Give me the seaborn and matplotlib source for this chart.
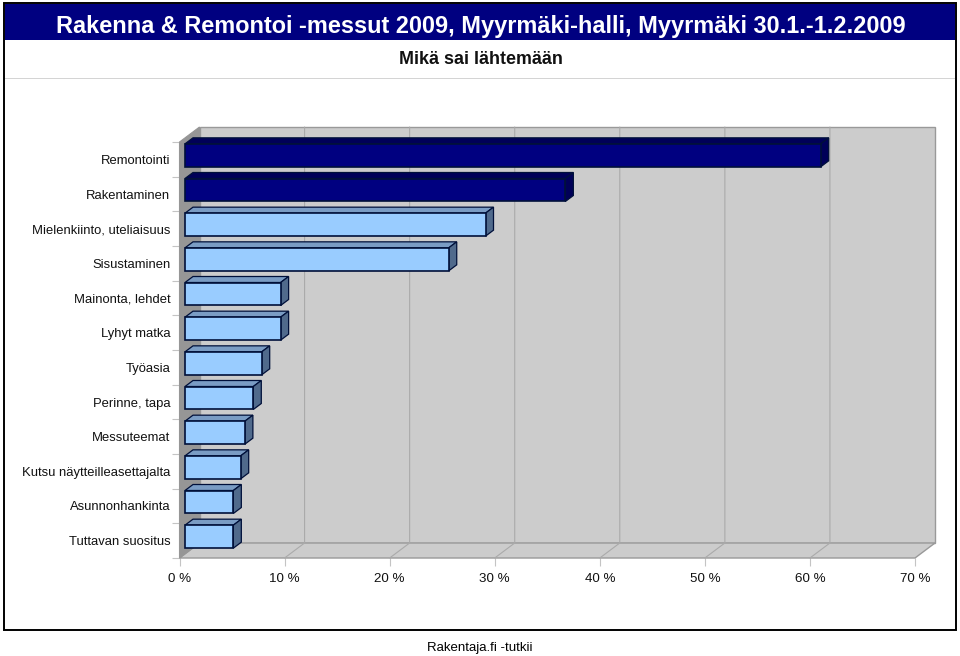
import matplotlib
matplotlib.use("Agg")
import matplotlib.pyplot as plt
from matplotlib.patches import Polygon, Rectangle
import seaborn as sns
import pandas as pd

title = "Rakenna & Remontoi -messut 2009, Myyrmäki-halli, Myyrmäki 30.1.-1.2.2009"
subtitle = "Mikä sai lähtemään"
footer = "Rakentaja.fi -tutkii"
categories = ["Remontointi", "Rakentaminen", "Mielenkiinto, uteliaisuus", "Sisustaminen",
              "Mainonta, lehdet", "Lyhyt matka", "Työasia", "Perinne, tapa",
              "Messuteemat", "Kutsu näytteilleasettajalta", "Asunnonhankinta", "Tuttavan suositus"]
values = [60.5, 36.2, 28.6, 25.1, 9.1, 9.1, 7.3, 6.5, 5.7, 5.3, 4.6, 4.6]
highlighted = [True, True] + [False] * 10
x_ticks = [0, 10, 20, 30, 40, 50, 60, 70]

NAVY, LIGHT = "#000080", "#99CCFF"
W, H = 960, 656
sns.set_theme(style="white")
plt.rcParams["font.family"] = ["Liberation Sans", "DejaVu Sans"]

fig = plt.figure(figsize=(W / 100, H / 100), dpi=100, facecolor="white")
def fx(p): return p / W
def fy(p): return 1 - p / H

# Page furniture
fig.add_artist(Rectangle((fx(4), fy(630)), fx(952), (630 - 3) / H, transform=fig.transFigure,
                         fc="white", ec="black", lw=1.4, zorder=-3))
fig.add_artist(Rectangle((fx(5), fy(40)), fx(950), 36 / H, transform=fig.transFigure,
                         fc=NAVY, ec="none", zorder=-2))
fig.add_artist(Rectangle((fx(5), fy(78.5)), fx(950), 1 / H, transform=fig.transFigure,
                         fc="#d4d4d4", ec="none", zorder=-2))
fig.text(fx(481), fy(26), title, color="white", weight="bold", fontsize=16.9, ha="center", va="center")
fig.text(fx(480.5), fy(60), subtitle, color="#111111", weight="bold", fontsize=12.9, ha="center", va="center")
fig.text(fx(480), fy(648.5), footer, color="black", fontsize=9.5, ha="center", va="center")

# Front plane of the 3D box
L, R, T, B = 179.5, 915, 142, 558
ax = fig.add_axes([fx(L), fy(B), (R - L) / W, (B - T) / H], facecolor="none")
df = pd.DataFrame({"cat": categories, "val": values})
pal = {c: (NAVY if h else LIGHT) for c, h in zip(categories, highlighted)}
sns.barplot(data=df, x="val", y="cat", hue="cat", palette=pal, legend=False, dodge=False,
            width=23 / 34.67, ax=ax, order=categories, hue_order=categories,
            edgecolor="#00103a", linewidth=1.2, zorder=5, saturation=1)
ax.set_xlim(0, 70)
ax.set_ylim(len(categories) - 0.5, -0.5)

px_x = 70 / (R - L)
px_y = len(categories) / (B - T)
wall_dx, wall_dy = 20 * px_x, 15 * px_y
bar_dx, bar_dy = 5.5 * px_x, 4 * px_y
side_dx, side_dy = 8 * px_x, 6 * px_y
y0, y1 = len(categories) - 0.5, -0.5

def poly(pts, **kw):
    ax.add_patch(Polygon(pts, closed=True, clip_on=False, **kw))

# Walls and floor
poly([(wall_dx, y0 - wall_dy), (70 + wall_dx, y0 - wall_dy), (70 + wall_dx, y1 - wall_dy), (wall_dx, y1 - wall_dy)],
     fc="#cccccc", ec="#999999", lw=1.0, zorder=1)
poly([(0, y0), (70, y0), (70 + wall_dx, y0 - wall_dy), (wall_dx, y0 - wall_dy)],
     fc="#cccccc", ec="#999999", lw=1.0, zorder=1)
poly([(0, y0), (wall_dx, y0 - wall_dy), (wall_dx, y1 - wall_dy), (0, y1)],
     fc="#969696", ec="#969696", lw=0.8, zorder=1.5)
for t in x_ticks[1:-1]:
    ax.plot([t, t + wall_dx, t + wall_dx], [y0, y0 - wall_dy, y1 - wall_dy],
            color="#aaaaaa", lw=0.8, clip_on=False, zorder=2)

# Shift bars into the box and add their depth faces
for patch, flag in zip(ax.patches[:len(categories)], highlighted):
    patch.set_x(patch.get_x() + bar_dx)
    patch.set_y(patch.get_y() - bar_dy)
    patch.set_clip_on(False)
    x0, yt = patch.get_x(), patch.get_y()
    x1, yb = x0 + patch.get_width(), yt + patch.get_height()
    top_c = "#000058" if flag else "#7A9CC4"
    side_c = "#000058" if flag else "#506A8C"
    edge = "#00103a"
    poly([(x0, yt), (x1, yt), (x1 + side_dx, yt - side_dy), (x0 + side_dx, yt - side_dy)],
         fc=top_c, ec=edge, lw=0.9, zorder=4)
    poly([(x1, yt), (x1 + side_dx, yt - side_dy), (x1 + side_dx, yb - side_dy), (x1, yb)],
         fc=side_c, ec=edge, lw=0.9, zorder=4)

# Axes furniture
for s in ax.spines.values():
    s.set_visible(False)
ax.set_xlabel("")
ax.set_ylabel("")
ax.set_xticks(x_ticks)
ax.set_xticklabels([f"{t} %" for t in x_ticks])
ax.set_yticks(range(len(categories)))
ax.set_yticklabels(categories)
ax.set_yticks([i - 0.5 for i in range(len(categories) + 1)], minor=True)
ax.tick_params(axis="y", which="major", length=0, pad=6.5, labelsize=9.4, labelcolor="#111111")
ax.tick_params(axis="y", which="minor", length=6, width=0.8, color="#c4c4c4", left=True)
ax.tick_params(axis="x", which="major", length=6, width=0.8, color="#c4c4c4", bottom=True,
               pad=5, labelsize=9.6, labelcolor="#111111")
ax.grid(False)

fig.savefig("out.png", dpi=100, facecolor="white")
